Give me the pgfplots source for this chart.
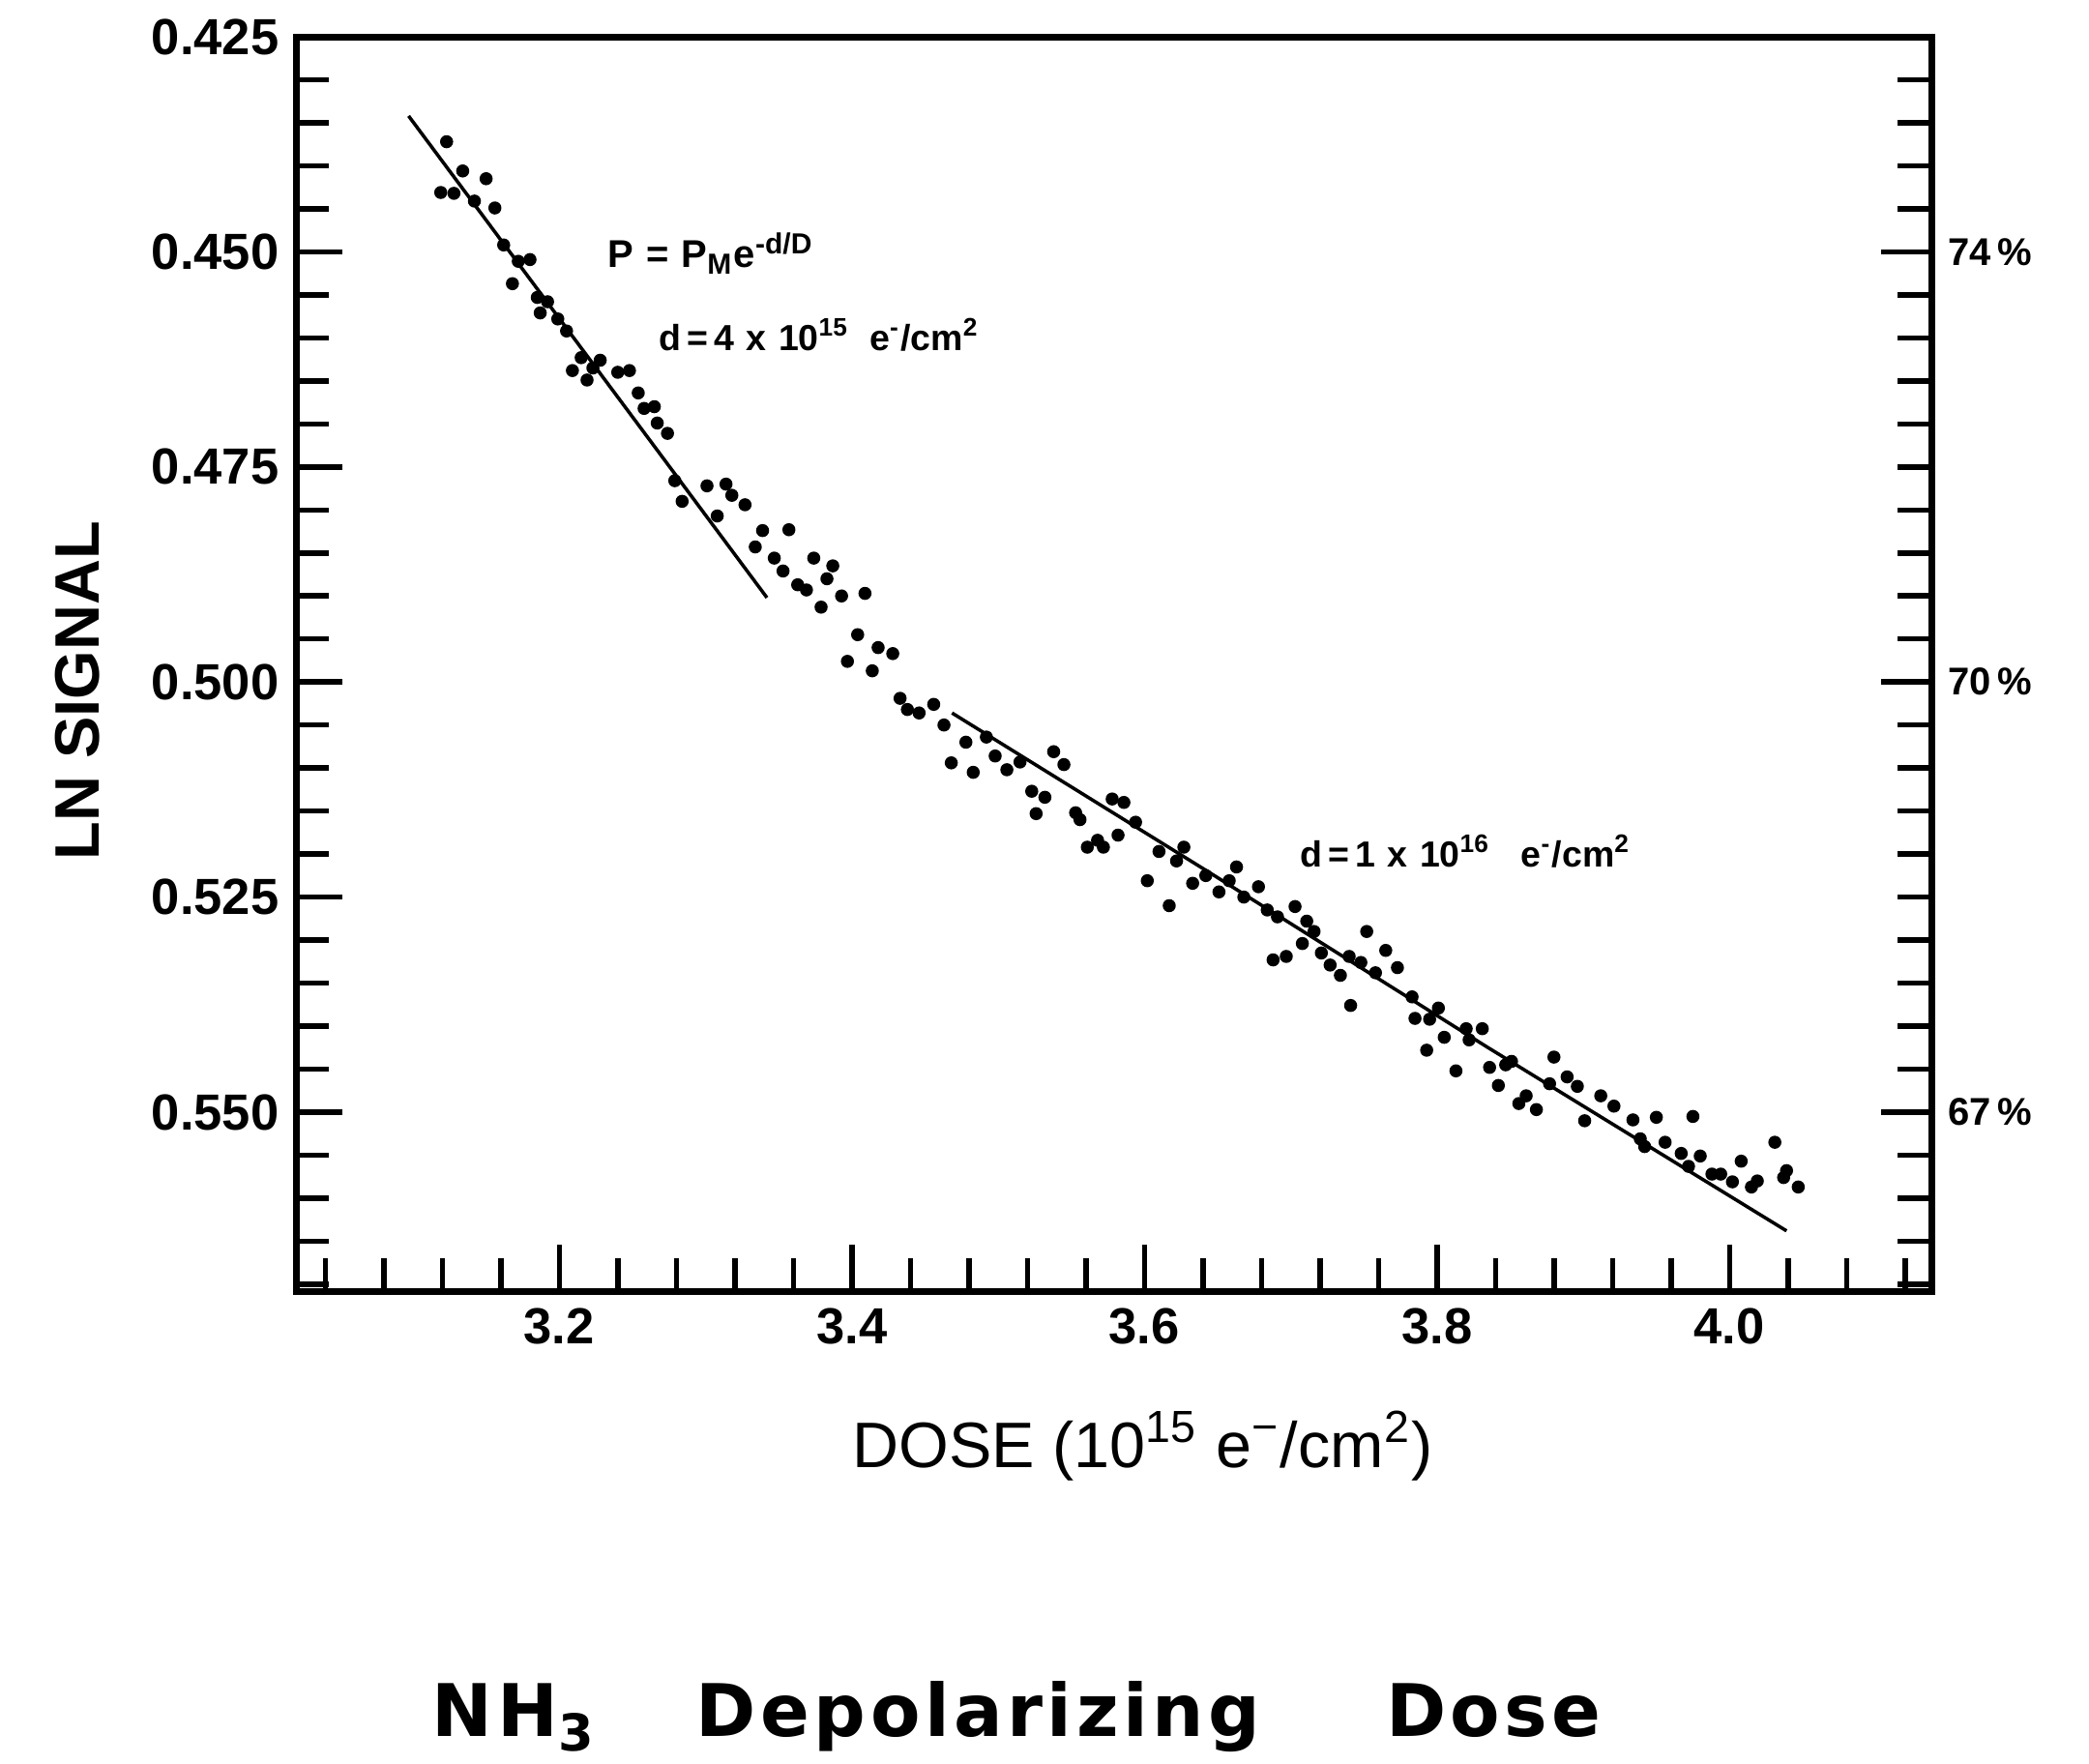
\documentclass[border=0pt]{standalone}
\usepackage{fontspec}
\setmainfont{Liberation Sans}
\newfontfamily\titlefont[LetterSpace=6]{DejaVu Sans}
\usepackage{pgfplots}
\pgfplotsset{compat=1.18}

\pgfplotsset{
  boxstyle/.style={
    at={(61.2pt,97.8pt)}, anchor=south west,
    scale only axis, width=338.2pt, height=259.4pt,
    xmin=3.02, xmax=4.138, ymin=0.425, ymax=0.5708, y dir=reverse,
    axis line style={line width=1.4pt, black},
    tick align=inside,
    every tick/.style={line width=1.1pt, black},
  }
}

\begin{document}
\begin{tikzpicture}
\path[use as bounding box] (0,0) rectangle (432pt,364.8pt);

% main axis: bottom and left
\begin{axis}[boxstyle,
  xtick pos=bottom, ytick pos=left,
  xtick={3.2,3.4,3.6,3.8,4.0},
  xticklabels={3.2,3.4,3.6,3.8,4.0},
  minor xtick={3.04,3.08,3.12,3.16,3.24,3.28,3.32,3.36,3.44,3.48,3.52,3.56,3.64,3.68,3.72,3.76,3.84,3.88,3.92,3.96,4.04,4.08,4.12},
  ytick={0.425,0.450,0.475,0.500,0.525,0.550},
  yticklabels={0.425,0.450,0.475,0.500,0.525,0.550},
  minor ytick={0.430,0.435,0.440,0.445,0.455,0.460,0.465,0.470,0.480,0.485,0.490,0.495,0.505,0.510,0.515,0.520,0.530,0.535,0.540,0.545,0.555,0.560,0.565,0.570},
  major tick length=9.7pt, minor tick length=6.8pt,
  tick label style={font=\bfseries\fontsize{10.5}{12}\selectfont},
]
\addplot[only marks, mark=*, mark size=1.15pt, black] coordinates {
(3.123,0.4372) (3.134,0.4406) (3.150,0.4415) (3.119,0.4431) (3.128,0.4432)
(3.142,0.4441) (3.156,0.4449) (3.162,0.4492) (3.172,0.4511) (3.180,0.4509)
(3.168,0.4537) (3.185,0.4553) (3.192,0.4558) (3.187,0.4571) (3.199,0.4578)
(3.205,0.4592) (3.215,0.4623) (3.228,0.4626) (3.209,0.4638) (3.219,0.4649)
(3.223,0.4635) (3.240,0.4640) (3.248,0.4638) (3.254,0.4664) (3.258,0.4682)
(3.265,0.4680) (3.267,0.4699) (3.274,0.4711) (3.279,0.4766) (3.301,0.4772)
(3.314,0.4770) (3.284,0.4790) (3.318,0.4783) (3.327,0.4794) (3.308,0.4807)
(3.339,0.4824) (3.357,0.4823)
(3.334,0.4843) (3.347,0.4856) (3.374,0.4856) (3.387,0.4865) (3.353,0.4871)
(3.383,0.4880) (3.363,0.4887) (3.369,0.4893) (3.393,0.4900) (3.409,0.4897)
(3.379,0.4913) (3.404,0.4945) (3.418,0.4960) (3.428,0.4967) (3.397,0.4976)
(3.414,0.4987) (3.433,0.5019) (3.438,0.5032) (3.446,0.5036) (3.456,0.5026)
(3.463,0.5050) (3.478,0.5070) (3.468,0.5094) (3.483,0.5105) (3.492,0.5064)
(3.498,0.5086) (3.506,0.5102) (3.515,0.5093) (3.538,0.5081) (3.545,0.5096)
(3.523,0.5127) (3.532,0.5134) (3.526,0.5153) (3.553,0.5152) (3.556,0.5160)
(3.578,0.5136) (3.586,0.5140) (3.594,0.5163) (3.561,0.5192) (3.568,0.5184)
(3.572,0.5192) (3.582,0.5178) (3.627,0.5192) (3.610,0.5197) (3.622,0.5208)
(3.602,0.5231) (3.633,0.5234) (3.617,0.5260)
(3.642,0.5225) (3.651,0.5244) (3.663,0.5215) (3.658,0.5231) (3.668,0.5250)
(3.678,0.5238) (3.684,0.5265) (3.703,0.5261) (3.691,0.5273) (3.711,0.5278)
(3.688,0.5323) (3.697,0.5319) (3.708,0.5304) (3.716,0.5290) (3.721,0.5315)
(3.727,0.5329) (3.734,0.5341) (3.740,0.5319) (3.748,0.5326) (3.752,0.5290)
(3.758,0.5338) (3.765,0.5312) (3.773,0.5332) (3.741,0.5376) (3.783,0.5366)
(3.785,0.5391) (3.795,0.5392) (3.801,0.5379) (3.805,0.5413) (3.793,0.5428)
(3.820,0.5403) (3.822,0.5416) (3.831,0.5403) (3.813,0.5452) (3.836,0.5448)
(3.842,0.5469) (3.847,0.5445) (3.851,0.5441) (3.856,0.5490) (3.861,0.5481)
(3.868,0.5497) (3.880,0.5436) (3.877,0.5467) (3.889,0.5459) (3.896,0.5470)
(3.901,0.5510) (3.912,0.5481) (3.921,0.5493) (3.934,0.5509) (3.939,0.5531)
(3.950,0.5506) (3.975,0.5505) (3.942,0.5540) (3.956,0.5535) (3.967,0.5548)
(3.980,0.5551) (3.972,0.5563) (3.988,0.5572) (3.994,0.5572) (4.002,0.5581)
(4.008,0.5557) (4.019,0.5580) (4.015,0.5587) (4.031,0.5535) (4.039,0.5568)
(4.037,0.5576) (4.047,0.5587)
};
\addplot[black, line width=0.7pt] coordinates {(3.097,0.4342) (3.342,0.4902)};
\addplot[black, line width=0.7pt] coordinates {(3.4685,0.5036) (3.645,0.5222) (3.834,0.5424) (4.039,0.5638)};
\end{axis}

% second axis: top and right ticks
\begin{axis}[boxstyle,
  xtick pos=top, ytick pos=right,
  xtick=\empty,
  minor xtick={3.04,3.08,3.12,3.16,3.20,3.24,3.28,3.32,3.36,3.40,3.44,3.48,3.52,3.56,3.60,3.64,3.68,3.72,3.76,3.80,3.84,3.88,3.92,3.96,4.00,4.04,4.08,4.12},
  ytick={0.450,0.500,0.550},
  yticklabels={74\,\%,70\,\%,67\,\%},
  yticklabel pos=right,
  minor ytick={0.430,0.435,0.440,0.445,0.455,0.460,0.465,0.470,0.475,0.480,0.485,0.490,0.495,0.505,0.510,0.515,0.520,0.525,0.530,0.535,0.540,0.545,0.555,0.560,0.565,0.570},
  major tick length=10.4pt, minor tick length=7pt,
  yticklabel style={font=\bfseries\fontsize{8}{10}\selectfont},
]
\addplot[draw=none] coordinates {(3.5,0.5)};
\end{axis}

% annotations
\node[anchor=base west, inner sep=0pt, font=\bfseries\fontsize{8}{10}\selectfont] at (125.4pt,309.4pt)
  {P\,\,=\,\,P\textsubscript{M}e\textsuperscript{-d/D}};
\node[anchor=base west, inner sep=0pt, font=\bfseries\fontsize{7.5}{9}\selectfont] at (136pt,292.2pt)
  {d\,=\,4\,\,x\,\,10\textsuperscript{15}\ \ e\textsuperscript{-}/cm\textsuperscript{2}};
\node[anchor=base west, inner sep=0pt, font=\bfseries\fontsize{7.5}{9}\selectfont] at (268.6pt,185.4pt)
  {d\,=\,1\,\,x\,\,10\textsuperscript{16}\ \ \ e\textsuperscript{-}/cm\textsuperscript{2}};

% axis labels
\node[rotate=90, font=\bfseries\fontsize{13}{15}\selectfont] at (16pt,222pt) {LN SIGNAL};
\node[font=\fontsize{13.3}{16}\selectfont] at (236.3pt,65.8pt)
  {DOSE (10\textsuperscript{15} e\textsuperscript{−}/cm\textsuperscript{2})};

% title
\node[anchor=base, inner sep=0pt, font=\titlefont\bfseries\fontsize{15}{18}\selectfont] at (106.3pt,5.6pt) {NH\textsubscript{3}};
\node[anchor=base, inner sep=0pt, font=\titlefont\bfseries\fontsize{15}{18}\selectfont] at (202.3pt,5.6pt) {Depolarizing};
\node[anchor=base, inner sep=0pt, font=\titlefont\bfseries\fontsize{15}{18}\selectfont] at (308.9pt,5.6pt) {Dose};
\end{tikzpicture}
\end{document}
